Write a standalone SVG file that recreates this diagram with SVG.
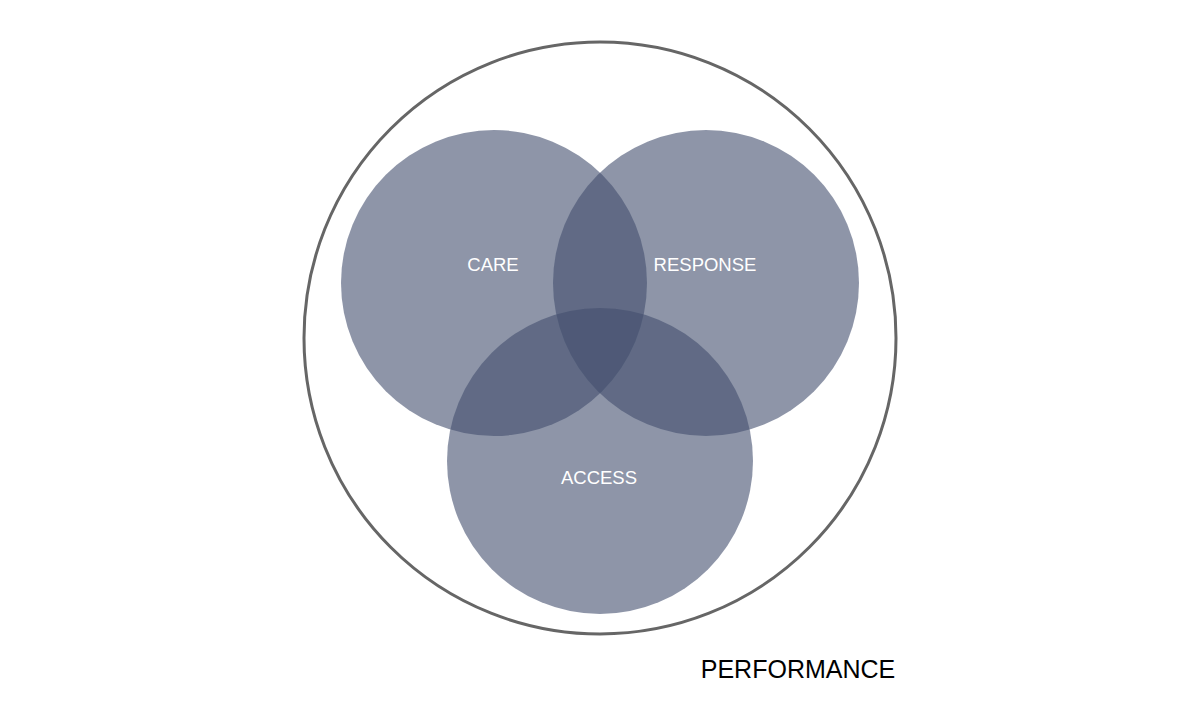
<svg xmlns="http://www.w3.org/2000/svg" width="1200" height="720" viewBox="0 0 1200 720">
<style>
.set{fill:#434E6E;fill-opacity:0.6}
.lbl{font-family:"Liberation Sans",Arial,sans-serif;font-size:18.5px;fill:#ffffff;text-anchor:middle}
</style>
<rect width="1200" height="720" fill="#ffffff"/>
<g id="performance">
<circle cx="600" cy="338" r="296" fill="none" stroke="#666666" stroke-width="3"/>
<text x="798" y="678" font-family="'Liberation Sans',Arial,sans-serif" font-size="25" fill="#000000" text-anchor="middle">PERFORMANCE</text>
</g>
<g id="care">
<circle class="set" cx="494" cy="283" r="153"/>
<text class="lbl" x="493" y="271">CARE</text>
</g>
<g id="response">
<circle class="set" cx="706" cy="283" r="153"/>
<text class="lbl" x="705" y="271">RESPONSE</text>
</g>
<g id="access">
<circle class="set" cx="600" cy="461" r="153"/>
<text class="lbl" x="599" y="484">ACCESS</text>
</g>
<g id="connectors"></g>
</svg>
